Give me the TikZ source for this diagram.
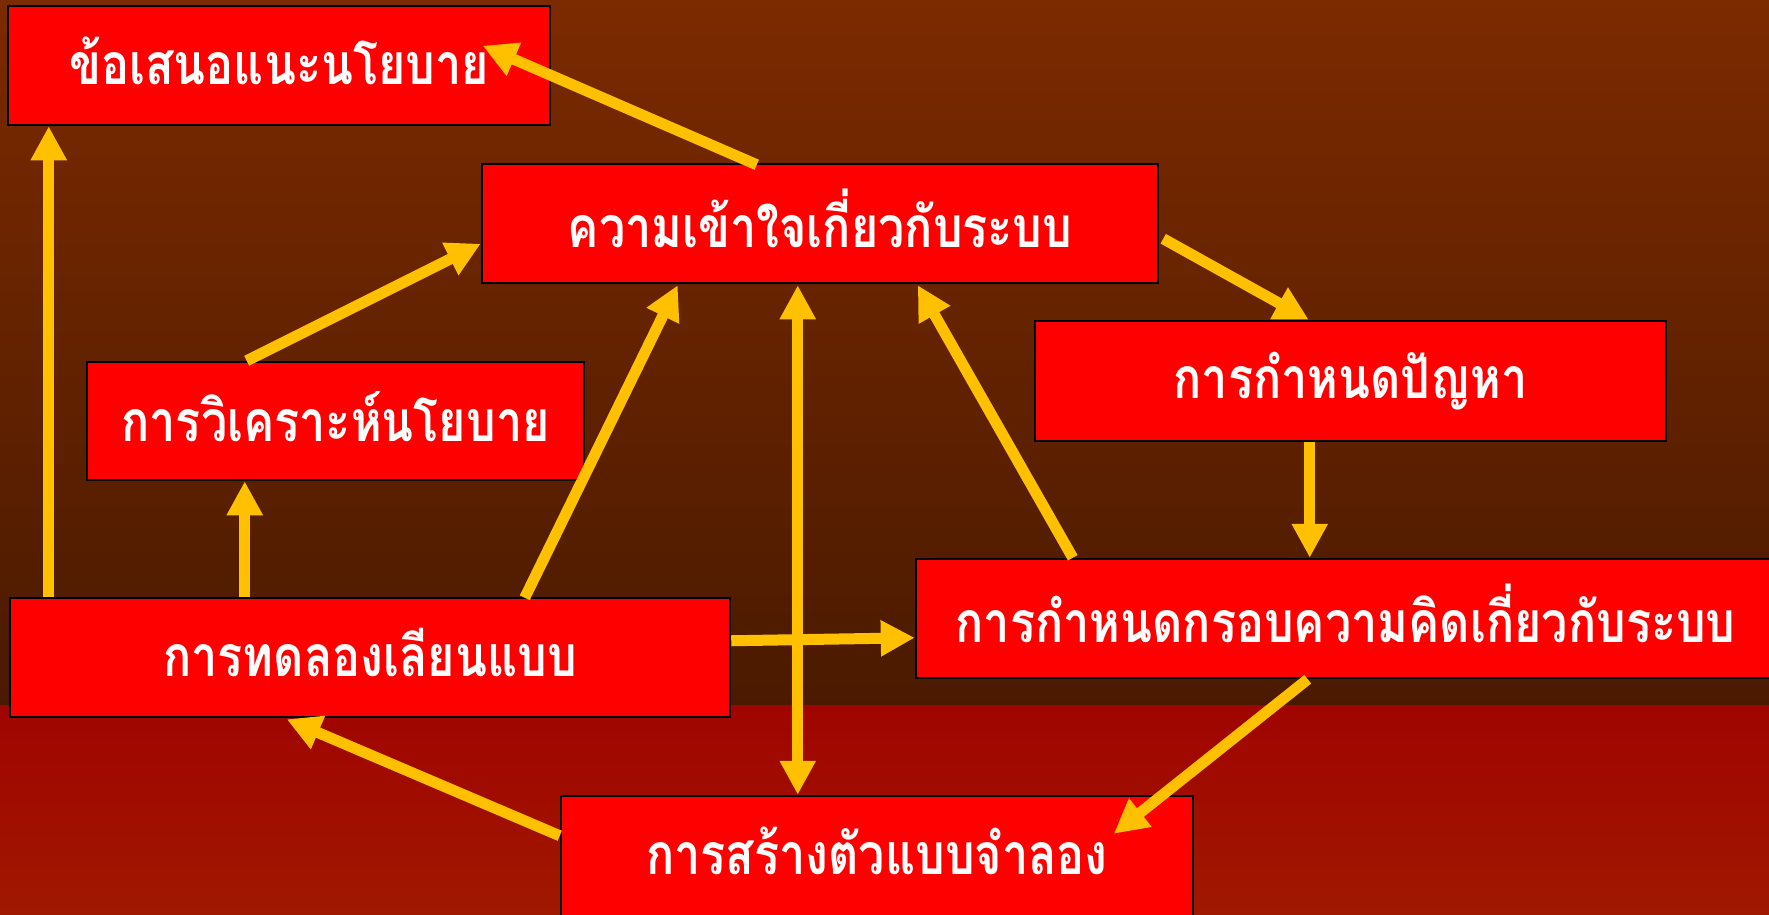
\documentclass[tikz,border=0pt]{standalone}
\usepackage{fontspec}
\newfontfamily\thaifont[Script=Thai,FakeStretch=0.82]{Loma}
\usetikzlibrary{arrows.meta}
\definecolor{bgtop}{HTML}{7C2A00}
\definecolor{bgmid}{HTML}{4A1A00}
\definecolor{bandtop}{HTML}{A00400}
\definecolor{bandbot}{HTML}{A01800}
\definecolor{arrowcol}{HTML}{FFC000}
\definecolor{boxred}{HTML}{FF0000}
\newcommand\boxlbl[1]{\raisebox{10pt}{#1}}
\tikzset{
  box/.style={draw=black, line width=2.5pt, fill=boxred, inner sep=0pt,
    font=\thaifont\bfseries\fontsize{57}{60}\selectfont, text=white},
  flow/.style={draw=arrowcol, line width=11pt,
    -{Triangle[length=34pt,width=34pt]}},
  flowboth/.style={draw=arrowcol, line width=11pt,
    {Triangle[length=34pt,width=34pt]}-{Triangle[length=34pt,width=34pt]}}
}
\begin{document}
\begin{tikzpicture}[x=1pt,y=-1pt]
\useasboundingbox (0,0) rectangle (1769,914);
\shade[top color=bgtop, bottom color=bgmid] (0,0) rectangle (1769,705);
\shade[top color=bandtop, bottom color=bandbot] (0,705) rectangle (1769,914);

\node[box, minimum width=542pt, minimum height=119pt] (A) at (279,65.5) {\boxlbl{ข้อเสนอแนะนโยบาย}};
\node[box, minimum width=676pt, minimum height=119pt] (B) at (820,223.5) {\boxlbl{ความเข้าใจเกี่ยวกับระบบ}};
\node[box, minimum width=497pt, minimum height=118pt] (C) at (335.5,421) {\boxlbl{การวิเคราะห์นโยบาย}};
\node[box, minimum width=631pt, minimum height=120pt] (D) at (1350.5,381) {\boxlbl{การกำหนดปัญหา}};
\node[box, minimum width=720pt, minimum height=119pt] (E) at (370,657.5) {\boxlbl{การทดลองเลียนแบบ}};
\node[box, minimum width=859pt, minimum height=119pt] (F) at (1345.5,618.5) {\boxlbl{การกำหนดกรอบความคิดเกี่ยวกับระบบ}};
\node[box, minimum width=632pt, minimum height=120pt] (G) at (877,856) {\boxlbl{การสร้างตัวแบบจำลอง}};

% connectors
\draw[flow] ([shift={(276,2)}]B.north west) -- ([shift={(476,41)}]A.north west);
\draw[flow] ([shift={(40,0)}]E.north west) -- ([shift={(42,0)}]A.south west);
\draw[flow] ([shift={(161,0)}]C.north west) -- ([shift={(0,81)}]B.north west);
\draw[flow] ([shift={(236,0)}]E.north west) -- ([shift={(159,0)}]C.south west);
\draw[flow] ([shift={(516,1)}]E.north west) -- ([shift={(197,1)}]B.south west);
\draw[flowboth] ([shift={(317,1)}]B.south west) -- ([shift={(238,0)}]G.north west);
\draw[flow] ([shift={(158,0)}]F.north west) -- ([shift={(437,1)}]B.south west);
\draw[flow] ([shift={(4,76)}]B.north east) -- ([shift={(275,0)}]D.north west);
\draw[flow] ([shift={(276,0)}]D.south west) -- ([shift={(395,0)}]F.north west);
\draw[flow] ([shift={(0,44)}]E.north east) -- ([shift={(0,80)}]F.north west);
\draw[flow] ([shift={(393,0)}]F.south west) -- ([shift={(554,39)}]G.north west);
\draw[flow] ([shift={(0,41)}]G.north west) -- ([shift={(278,1)}]E.south west);
\end{tikzpicture}
\end{document}
